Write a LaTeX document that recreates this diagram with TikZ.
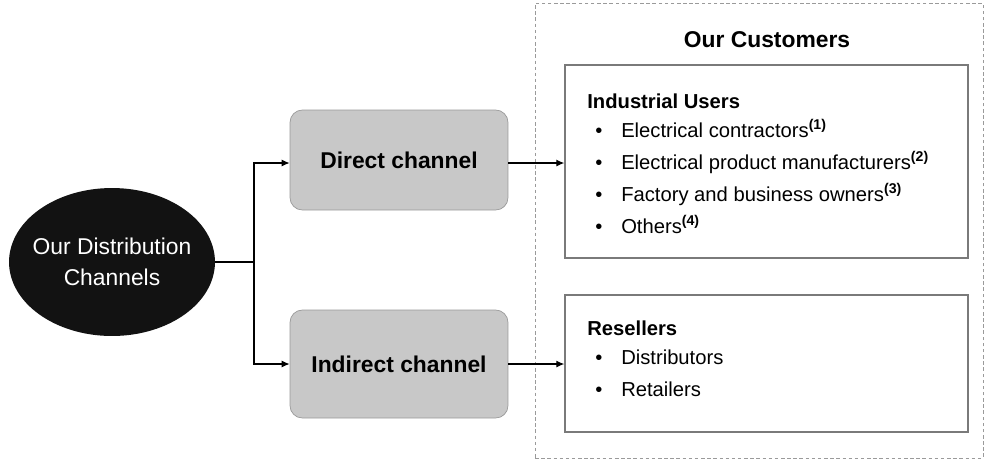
\documentclass[tikz,border=0pt]{standalone}
\usepackage{fontspec}
\setmainfont{Liberation Sans}
\usepackage{xcolor}
\usetikzlibrary{arrows.meta,positioning,shapes.geometric}

\definecolor{chanfill}{HTML}{C8C8C8}
\definecolor{chanline}{HTML}{9A9A9A}
\definecolor{boxline}{HTML}{7A7A7A}
\newcommand{\bul}[1]{\hspace*{4.5pt}\makebox[14.8pt][l]{\textbullet}#1}
\newcommand{\fn}[1]{\textsuperscript{\bfseries(#1)}}

\begin{document}
\begin{tikzpicture}[x=0.02cm,y=-0.02cm,
  chan/.style={draw=chanline,fill=chanfill,rounded corners=7pt,minimum width=4.36cm,font=\fontsize{13}{15}\selectfont\bfseries},
  cust/.style={draw=boxline,line width=0.8pt,minimum width=8.06cm},
  list/.style={anchor=north west,align=left,inner sep=0pt,font=\fontsize{11.5}{18.2}\selectfont},
  arr/.style={-{Latex[length=1.6mm,width=1.4mm]},line width=0.7pt}]
\useasboundingbox (0,0) rectangle (986,461);
\node[ellipse,fill=black!93,inner sep=0pt,minimum width=4.12cm,minimum height=2.96cm] (dist) at (112,262) {};
\node[align=center,text=white,font=\fontsize{13}{18}\selectfont] (distlbl) at (dist) {Our Distribution\\Channels};
\node[chan,minimum height=2cm] (direct) at (399,160) {Direct channel};
\node[chan,minimum height=2.16cm] (indirect) at (399,364) {Indirect channel};
\node[draw=chanline,dashed,dash pattern=on 2pt off 1.5pt,minimum width=8.96cm,minimum height=9.1cm] (cbox) at (759,230.5) {};
\node[font=\fontsize{13}{15}\selectfont\bfseries] (ctitle) at (767,40) {Our Customers};
\node[cust,minimum height=3.86cm] (indust) at (766.5,161.5) {};
\node[cust,minimum height=2.74cm] (resell) at (766.5,363.5) {};
\node[list] (ilist) at (587,93) {\textbf{Industrial Users}\\[-1.5pt]
\bul{Electrical contractors\fn{1}}\\
\bul{Electrical product manufacturers\fn{2}}\\
\bul{Factory and business owners\fn{3}}\\
\bul{Others\fn{4}}};
\node[list] (rlist) at (587,320) {\textbf{Resellers}\\[-1.5pt]
\bul{Distributors}\\
\bul{Retailers}};
\coordinate (fork) at (254,262);
\draw[line width=0.7pt] (dist.east) -- (fork);
\draw[arr] (fork) |- (direct.west |- 0,163);
\draw[arr] (fork) |- (indirect.west);
\draw[arr] (direct.east |- 0,163) -- (indust.west |- 0,163);
\draw[arr] (indirect.east) -- (indirect.east -| resell.west);
\end{tikzpicture}
\end{document}
